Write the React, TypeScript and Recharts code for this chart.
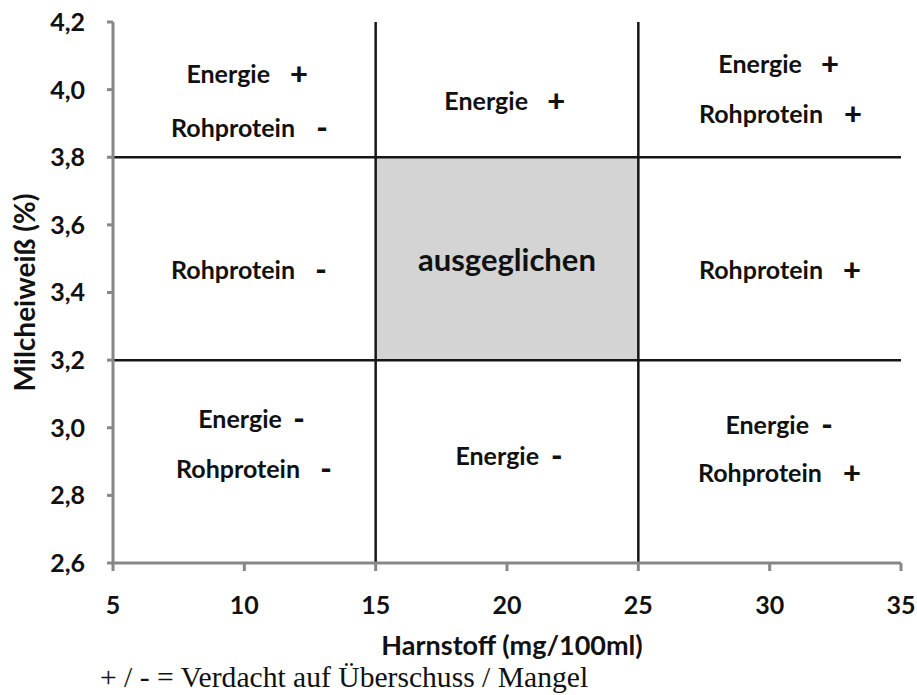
import {
  ScatterChart,
  Scatter,
  XAxis,
  YAxis,
  ReferenceArea,
  ReferenceLine,
  Label,
} from "recharts";

const xTicks = [5, 10, 15, 20, 25, 30, 35];
const yTicks = [2.6, 2.8, 3.0, 3.2, 3.4, 3.6, 3.8, 4.0, 4.2];

// Grenzen Harnstoff (mg/100ml) und Milcheiweiß (%)
const harnstoffLimits = [15, 25];
const eiweissLimits = [3.2, 3.8];

// Beschriftung der Felder: Wort, Vorzeichen, Lage
const cellWord = [
  "Energie", "Rohprotein", "Energie", "Energie", "Rohprotein", "Rohprotein",
  "Rohprotein", "Energie", "Rohprotein", "Energie", "Energie", "Rohprotein",
];
const cellSign = ["+", "-", "+", "+", "+", "-", "+", "-", "-", "-", "-", "+"];
const wordX = [10.98, 11.93, 20.8, 31.23, 32.03, 11.93, 32.03, 11.43, 12.12, 21.22, 31.5, 31.99];
const signX = [12.08, 12.96, 21.87, 32.3, 33.17, 12.92, 33.13, 12.08, 13.11, 21.9, 32.18, 33.13];
const cellY = [4.05, 3.89, 3.97, 4.08, 3.93, 3.47, 3.47, 3.03, 2.88, 2.92, 3.01, 2.87];

const centerText = ["ausgeglichen"];
const centerX = [20];
const centerY = [3.5];

const FONT = "Lato, 'Open Sans', sans-serif";
const AXIS_GREY = "#878787";
const LINE = "#161616";

const words = cellWord.map((w, i) => ({ x: wordX[i], y: cellY[i], text: w }));
const signs = cellSign.map((s, i) => ({ x: signX[i], y: cellY[i], text: s }));
const centers = centerText.map((t, i) => ({ x: centerX[i], y: centerY[i], text: t }));

const fmt = (v: number) => v.toFixed(1).replace(".", ",");

const textShape =
  (anchor: "start" | "middle" | "end", size: number, weight = 700) =>
  (props: any) =>
    (
      <text
        x={props.cx}
        y={props.cy}
        textAnchor={anchor}
        dominantBaseline="central"
        fontFamily={FONT}
        fontWeight={weight}
        fontSize={size}
        fill="#111"
      >
        {props.payload.text}
      </text>
    );

export default function App() {
  return (
    <div style={{ position: "absolute", left: 0, top: 0, width: 917, height: 695, background: "#fff" }}>
      <ScatterChart
        width={917}
        height={695}
        margin={{ top: 22, right: 16, bottom: 0, left: 0 }}
      >
        <XAxis
          type="number"
          dataKey="x"
          domain={[5, 35]}
          ticks={xTicks}
          interval={0}
          height={132}
          axisLine={{ stroke: AXIS_GREY, strokeWidth: 3 }}
          tickLine={{ stroke: AXIS_GREY, strokeWidth: 3 }}
          tickSize={8}
          tickMargin={25}
          tick={{ fill: "#111", fontFamily: FONT, fontWeight: 700, fontSize: 25 }}
        >
          <Label
            value="Harnstoff (mg/100ml)"
            position="insideBottom"
            offset={40}
            dx={5}
            style={{ fill: "#111", fontFamily: FONT, fontWeight: 700, fontSize: 27 }}
          />
        </XAxis>
        <YAxis
          type="number"
          dataKey="y"
          domain={[2.6, 4.2]}
          ticks={yTicks}
          interval={0}
          width={113}
          tickFormatter={fmt}
          axisLine={{ stroke: AXIS_GREY, strokeWidth: 3 }}
          tickLine={{ stroke: AXIS_GREY, strokeWidth: 3 }}
          tickSize={6}
          tickMargin={22}
          tick={{ fill: "#111", fontFamily: FONT, fontWeight: 700, fontSize: 25 }}
        >
          <Label
            content={({ viewBox }: any) => {
              const cx = 24;
              const cy = viewBox.y + viewBox.height / 2;
              return (
                <text
                  x={cx}
                  y={cy}
                  transform={`rotate(-90, ${cx}, ${cy})`}
                  textAnchor="middle"
                  dominantBaseline="central"
                  fontFamily={FONT}
                  fontWeight={700}
                  fontSize={28}
                  fill="#111"
                >
                  Milcheiweiß (%)
                </text>
              );
            }}
          />
        </YAxis>
        <ReferenceArea
          x1={harnstoffLimits[0]}
          x2={harnstoffLimits[1]}
          y1={eiweissLimits[0]}
          y2={eiweissLimits[1]}
          fill="#d4d4d4"
          fillOpacity={1}
          stroke="none"
        />
        {harnstoffLimits.map((v) => (
          <ReferenceLine key={`x${v}`} x={v} stroke={LINE} strokeWidth={2.5} />
        ))}
        {eiweissLimits.map((v) => (
          <ReferenceLine key={`y${v}`} y={v} stroke={LINE} strokeWidth={2.5} />
        ))}
        <Scatter data={words} isAnimationActive={false} shape={textShape("end", 25)} />
        <Scatter data={signs} isAnimationActive={false} shape={textShape("middle", 31, 900)} />
        <Scatter data={centers} isAnimationActive={false} shape={textShape("middle", 31)} />
      </ScatterChart>
      <svg
        width={917}
        height={40}
        style={{ position: "absolute", left: 0, top: 655 }}
      >
        <text
          x={100}
          y={32}
          fontFamily="'Liberation Serif', 'Times New Roman', serif"
          fontSize={29.6}
          fill="#111"
        >
          + / - = Verdacht auf Überschuss / Mangel
        </text>
      </svg>
    </div>
  );
}
